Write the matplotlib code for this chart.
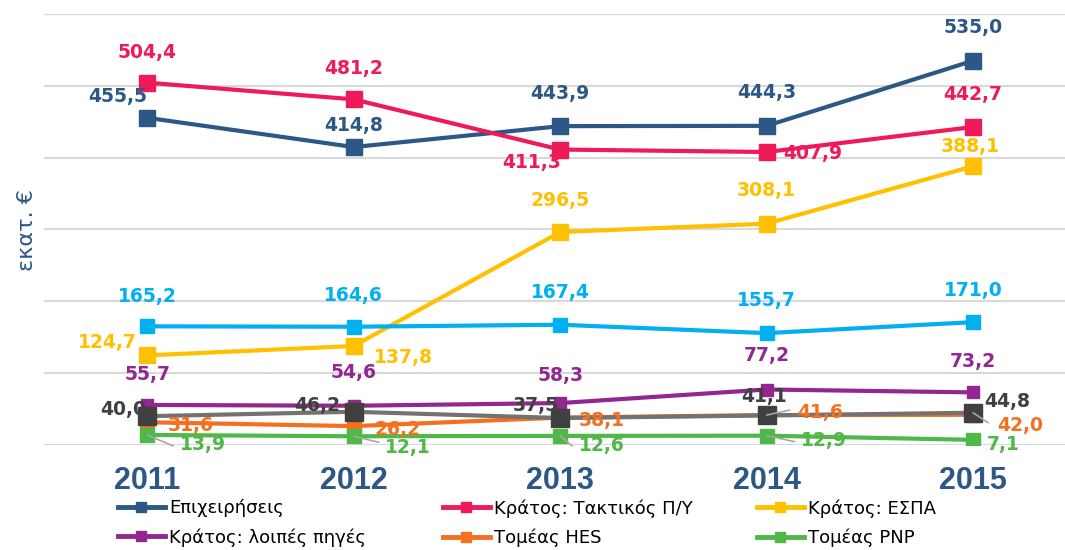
import matplotlib.pyplot as plt
from matplotlib.lines import Line2D

plt.rcParams['font.family'] = ['DejaVu Sans']

years = ['2011', '2012', '2013', '2014', '2015']

epixeiriseis = [455.5, 414.8, 443.9, 444.3, 535.0]
kratos_taktikos = [504.4, 481.2, 411.3, 407.9, 442.7]
kratos_espa = [124.7, 137.8, 296.5, 308.1, 388.1]
exoteriko = [165.2, 164.6, 167.4, 155.7, 171.0]
kratos_loipes = [55.7, 54.6, 58.3, 77.2, 73.2]
allo = [40.0, 46.2, 37.5, 41.1, 44.8]
tomeas_hes = [31.6, 26.2, 38.1, 41.6, 42.0]
tomeas_pnp = [13.9, 12.1, 12.6, 12.9, 7.1]

# label offsets in pixels (dx, dy) per point
series = [
    # name, values, line colour, marker colour, marker size, offsets, zorder
    ('Επιχειρήσεις', epixeiriseis, '#2C5786', '#2C5786', 11,
     [(-30, 21), (0, 22), (0, 33), (0, 33), (0, 33)], 2),
    ('Κράτος: Τακτικός Π/Υ', kratos_taktikos, '#EE1A5A', '#EE1A5A', 11,
     [(0, 30), (0, 31), (-29, -13), (46, -2), (0, 32)], 2),
    ('Κράτος: ΕΣΠΑ', kratos_espa, '#FFC000', '#FFC000', 11,
     [(-40, 13), (50, -12), (0, 32), (0, 33), (-3, 20)], 2),
    ('Εξωτερικό', exoteriko, '#00B0F0', '#00B0F0', 10,
     [(0, 30), (0, 31), (0, 32), (0, 33), (0, 32)], 2),
    ('Κράτος: λοιπές πηγές', kratos_loipes, '#92278F', '#92278F', 8,
     [(0, 30), (0, 33), (0, 28), (0, 34), (0, 31)], 2),
    ('Τομέας HES', tomeas_hes, '#F47021', '#F47021', 10,
     [(43, -3), (44, -3), (42, -3), (53, 3), (47, -11)], 2.1),
    ('Άλλο', allo, '#767171', '#404040', 13,
     [(-24, 7), (-37, 6), (-24, 13), (-3, 19), (34, 11)], 2.2),
    ('Τομέας PNP', tomeas_pnp, '#50B848', '#50B848', 10,
     [(56, -10), (54, -11), (42, -10), (57, -5), (30, -5)], 2.3),
]

fig = plt.figure(figsize=(10.65, 5.5), dpi=100)
ax = fig.add_axes([0.0413, 0.191, 0.9587, 0.7835])

x = list(range(len(years)))
handles = {}
for name, vals, lc, mc, ms, offs, z in series:
    ax.plot(x, vals, color=lc, lw=3, zorder=z)
    ax.plot(x, vals, ls='none', marker='s', color=mc, ms=ms, zorder=z + 1)
    for xi, v, (dx, dy) in zip(x, vals, offs):
        lab = f'{v:.1f}'.replace('.', ',')
        ax.annotate(lab, (xi, v), xytext=(dx * 0.72, dy * 0.72),
                    textcoords='offset points', ha='center', va='center',
                    fontsize=13.5, fontweight='bold', color=mc, zorder=5)
    handles[name] = Line2D([], [], color=lc, lw=3.5, marker='s', ms=7,
                           label=name)

# small leader lines for the crowded lower labels
leaders = [(0, 13.9, 26, -11), (1, 12.1, 25, -6), (2, 12.6, 12, -10),
           (3, 12.9, 28, -6), (3, 41.6, 23, 5), (4, 44.8, 15, -10)]
for xi, v, dx, dy in leaders:
    ax.annotate('', (xi, v), xytext=(dx * 0.72, dy * 0.72),
                textcoords='offset points', zorder=4,
                arrowprops=dict(arrowstyle='-', color='#A6A6A6', lw=1.2,
                                shrinkA=0, shrinkB=0))

ax.set_xlim(-0.5, 4.445)
ax.set_ylim(0, 600)
ax.set_yticks(range(0, 700, 100))
ax.set_yticklabels([])
ax.tick_params(axis='y', length=0)
ax.tick_params(axis='x', length=0, pad=15)
ax.set_xticks(x)
ax.set_xticklabels(years, fontsize=22, fontweight='bold', color='#2C5786',
                   family='Liberation Sans')
ax.grid(axis='y', color='#D9D9D9', lw=1.5)
ax.set_axisbelow(True)
for s in ax.spines.values():
    s.set_visible(False)

fig.text(0.025, 0.582, 'εκατ. €', rotation=90, ha='center', va='center',
         fontsize=16, color='#2C5786')

columns = [(['Επιχειρήσεις', 'Κράτος: λοιπές πηγές'], 118),
           (['Κράτος: Τακτικός Π/Υ', 'Τομέας HES'], 443),
           (['Κράτος: ΕΣΠΑ', 'Τομέας PNP'], 757)]
for names, px in columns:
    fig.legend(handles=[handles[n] for n in names], loc='center left',
               bbox_to_anchor=(px / 1065, 1 - 523 / 550), frameon=False,
               fontsize=13, handlelength=2.6, handletextpad=0.25,
               labelspacing=0.6, borderaxespad=0, borderpad=0)

fig.savefig('out.png', dpi=100)
